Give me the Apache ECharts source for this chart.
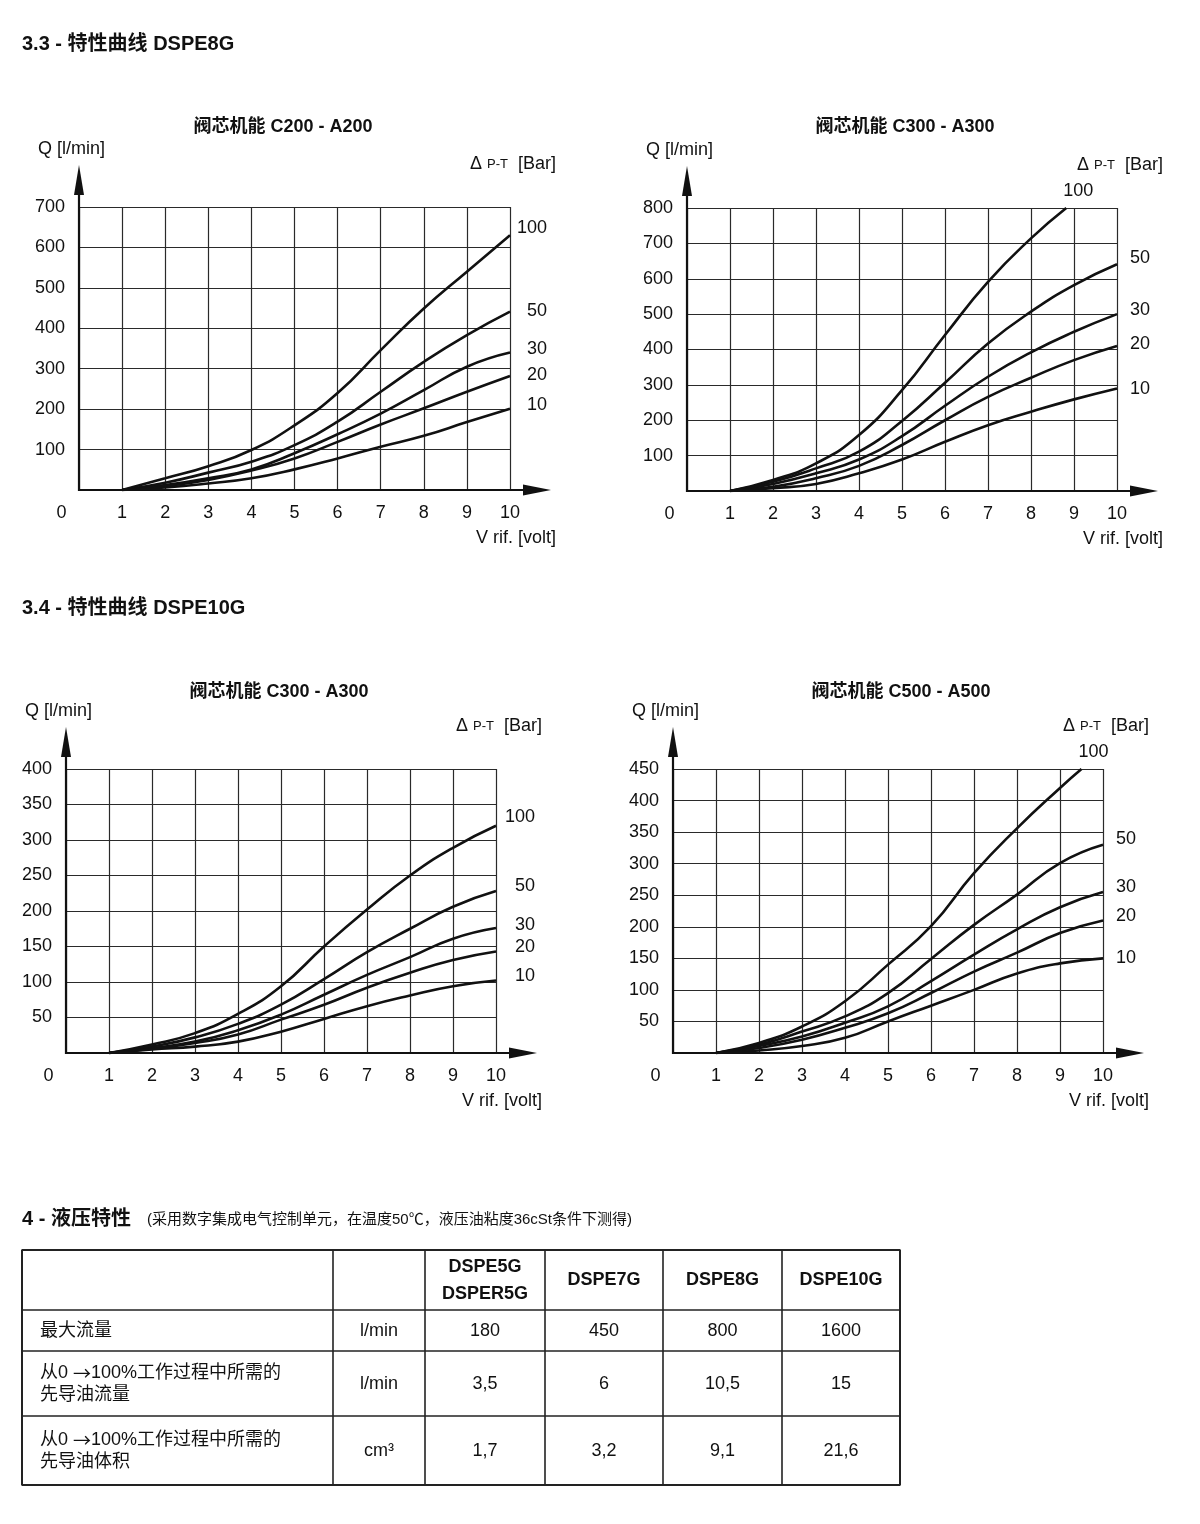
<!DOCTYPE html>
<html><head><meta charset="utf-8">
<script src="https://cdn.jsdelivr.net/npm/echarts@6/dist/echarts.min.js"></script>
<style>html,body{margin:0;padding:0;background:#fff}#c{width:1200px;height:1524px}</style>
</head><body><div id="c"></div>
<script>
// ---------- data ----------
const dpLabels = ['100', '50', '30', '20', '10'];

// 3.3 DSPE8G  C200 - A200   Q [l/min] vs V rif. [volt]
const c1_100 = [[1,0],[2,29],[3,59],[4,99],[5,160],[6,240],[7,346],[8,449],[9,540],[10,630]];
const c1_50  = [[1,0],[2,18],[3,43],[4,70],[5,111],[6,169],[7,243],[8,317],[9,383],[10,441]];
const c1_30  = [[1,0],[2,12],[3,29],[4,51],[5,91],[6,138],[7,189],[8,247],[9,305],[10,340]];
const c1_20  = [[1,0],[2,10],[3,25],[4,48],[5,78],[6,119],[7,162],[8,202],[9,243],[10,282]];
const c1_10  = [[1,0],[2,6],[3,16],[4,29],[5,51],[6,78],[7,107],[8,134],[9,168],[10,201]];

// 3.3 DSPE8G  C300 - A300
const c2_100 = [[1,0],[2,31],[3,78],[4,158],[5,285],[6,441],[7,591],[8,714],[8.82,800]];
const c2_50  = [[1,0],[2,26],[3,64],[4,111],[5,198],[6,306],[7,417],[8,507],[9,582],[10,641]];
const c2_30  = [[1,0],[2,20],[3,50],[4,89],[5,155],[6,241],[7,323],[8,392],[9,450],[10,500]];
const c2_20  = [[1,0],[2,12],[3,36],[4,71],[5,130],[6,200],[7,266],[8,320],[9,370],[10,410]];
const c2_10  = [[1,0],[2,8],[3,20],[4,50],[5,89],[6,139],[7,186],[8,224],[9,259],[10,290]];

// 3.4 DSPE10G  C300 - A300
const c3_100 = [[1,0],[2,12],[3,28],[4,55],[5,94],[6,150],[7,202],[8,250],[9,289],[10,320]];
const c3_50  = [[1,0],[2,9],[3,22],[4,41],[5,68],[6,104],[7,142],[8,175],[9,206],[10,228]];
const c3_30  = [[1,0],[2,7],[3,16],[4,32],[5,54],[6,82],[7,110],[8,135],[9,161],[10,176]];
const c3_20  = [[1,0],[2,6],[3,14],[4,26],[5,47],[6,68],[7,92],[8,113],[9,131],[10,143]];
const c3_10  = [[1,0],[2,5],[3,9],[4,16],[5,30],[6,48],[7,66],[8,81],[9,94],[10,102]];

// 3.4 DSPE10G  C500 - A500
const c4_100 = [[1,0],[2,16],[3,42],[4,82],[5,140],[6,201],[7,285],[8,356],[9,420],[9.5,450]];
const c4_50  = [[1,0],[2,13],[3,34],[4,58],[5,95],[6,149],[7,203],[8,251],[9,301],[10,330]];
const c4_30  = [[1,0],[2,11],[3,26],[4,48],[5,74],[6,114],[7,156],[8,196],[9,231],[10,255]];
const c4_20  = [[1,0],[2,8],[3,21],[4,40],[5,63],[6,95],[7,129],[8,159],[9,190],[10,210]];
const c4_10  = [[1,0],[2,4],[3,11],[4,24],[5,50],[6,75],[7,100],[8,126],[9,142],[10,150]];

// table
const tableHeader = ['', '', 'DSPE5G\nDSPER5G', 'DSPE7G', 'DSPE8G', 'DSPE10G'];
const tableRow1 = ['最大流量', 'l/min', '180', '450', '800', '1600'];
const tableRow2 = ['从0 →100%工作过程中所需的\n先导油流量', 'l/min', '3,5', '6', '10,5', '15'];
const tableRow3 = ['从0 →100%工作过程中所需的\n先导油体积', 'cm³', '1,7', '3,2', '9,1', '21,6'];

// ---------- layout / style ----------
const FONT = "'Liberation Sans', Arial, 'Noto Sans CJK SC', sans-serif";
const INK = '#111';
const GRIDC = '#2a2a2a';

const panels = [
  { title: '阀芯机能 C200 - A200', titleX: 283, titleY: 127, yMax: 700, yStep: 100,
    curves: [c1_100, c1_50, c1_30, c1_20, c1_10],
    grid: { left: 79, top: 207, width: 431, height: 283 },
    labelDx: 37, labelDy: [-7, -1, -4, -1, -4], topLabel: false },
  { title: '阀芯机能 C300 - A300', titleX: 905, titleY: 127, yMax: 800, yStep: 100,
    curves: [c2_100, c2_50, c2_30, c2_20, c2_10],
    grid: { left: 687, top: 208, width: 430, height: 283 },
    labelDx: 33, labelDy: [0, -6, -4, -2, 1], topLabel: true },
  { title: '阀芯机能 C300 - A300', titleX: 279, titleY: 692, yMax: 400, yStep: 50,
    curves: [c3_100, c3_50, c3_30, c3_20, c3_10],
    grid: { left: 66, top: 769, width: 430, height: 284 },
    labelDx: 39, labelDy: [-9, -5, -3, -4, -5], topLabel: false },
  { title: '阀芯机能 C500 - A500', titleX: 901, titleY: 692, yMax: 450, yStep: 50,
    curves: [c4_100, c4_50, c4_30, c4_20, c4_10],
    grid: { left: 673, top: 769, width: 430, height: 284 },
    labelDx: 33, labelDy: [0, -6, -5, -4, 0], topLabel: true }
];

const chart = echarts.init(document.getElementById('c'), null, { renderer: 'canvas' });

const option = {
  backgroundColor: '#fff',
  animation: false,
  textStyle: { fontFamily: FONT, color: INK },
  grid: panels.map(p => Object.assign({ containLabel: false }, p.grid)),
  xAxis: panels.map((p, i) => ({
    type: 'value', gridIndex: i, min: 0, max: 10, interval: 1,
    axisLine: { show: false }, axisTick: { show: false },
    splitLine: { show: true, lineStyle: { color: GRIDC, width: 1.2 } },
    axisLabel: {
      show: true, margin: 14, fontSize: 18, color: INK, fontFamily: FONT,
      showMinLabel: true, showMaxLabel: true,
      formatter: v => (v === 0 ? '{z|0}' : String(v)),
      rich: { z: { fontSize: 18, color: INK, fontFamily: FONT, padding: [0, 35, 0, 0] } }
    }
  })),
  yAxis: panels.map((p, i) => ({
    type: 'value', gridIndex: i, min: 0, max: p.yMax, interval: p.yStep,
    axisLine: { show: false }, axisTick: { show: false },
    splitLine: { show: true, lineStyle: { color: GRIDC, width: 1.2 } },
    axisLabel: {
      show: true, margin: 14, fontSize: 18, color: INK, fontFamily: FONT,
      formatter: v => (v === 0 ? '' : String(v))
    }
  })),
  series: []
};
panels.forEach((p, i) => {
  p.curves.forEach((d, k) => {
    option.series.push({
      type: 'line', name: dpLabels[k], xAxisIndex: i, yAxisIndex: i, data: d,
      smooth: 0.5, symbol: 'none', silent: true, z: 5,
      lineStyle: { color: INK, width: 2.6 }
    });
  });
});
chart.setOption(option);

// ---------- annotations ----------
function txt(x, y, text, o) {
  o = o || {};
  const align = o.align || 'left';
  const va = o.va || 'middle';
  const st = {
    x: x, y: y, text: text, fill: o.fill || INK, fontFamily: o.family || FONT,
    fontSize: o.size || 18, fontWeight: o.weight || 'normal',
    align: align, textAlign: align, verticalAlign: va, textVerticalAlign: va
  };
  if (o.lineHeight) st.lineHeight = o.lineHeight;
  if (o.rich) st.rich = o.rich;
  return { type: 'text', silent: true, z: 20, style: st };
}
function line(x1, y1, x2, y2, w, c) {
  return { type: 'line', silent: true, z: 20, shape: { x1, y1, x2, y2 },
    style: { stroke: c || INK, lineWidth: w || 2 } };
}
function poly(pts) {
  return { type: 'polygon', silent: true, z: 20, shape: { points: pts }, style: { fill: INK } };
}

const g = [];
// headings
g.push(txt(22, 44, '3.3 - 特性曲线 DSPE8G', { size: 20, weight: 'bold' }));
g.push(txt(22, 608, '3.4 - 特性曲线 DSPE10G', { size: 20, weight: 'bold' }));
g.push(txt(22, 1219, '4 - 液压特性', { size: 20, weight: 'bold' }));
g.push(txt(147, 1220, '(采用数字集成电气控制单元，在温度50℃，液压油粘度36cSt条件下测得)', { size: 15 }));

panels.forEach((p, i) => {
  const px = v => chart.convertToPixel({ gridIndex: i }, v);
  const o = px([0, 0]);
  const r = px([10, 0]);
  const t = px([0, p.yMax]);
  const x0 = o[0], y0 = o[1], x10 = r[0], yTop = t[1];
  // axes with arrows
  g.push(line(x0 - 1, y0, x10 + 16, y0, 2.2));
  g.push(poly([[x10 + 41, y0], [x10 + 13, y0 - 5.5], [x10 + 13, y0 + 5.5]]));
  g.push(line(x0, y0 + 1, x0, yTop - 15, 2.2));
  g.push(poly([[x0, yTop - 42], [x0 - 5, yTop - 12], [x0 + 5, yTop - 12]]));
  // titles & axis names
  g.push(txt(p.titleX, p.titleY, p.title, { size: 18, weight: 'bold', align: 'center' }));
  g.push(txt(x0 - 41, yTop - 58, 'Q [l/min]'));
  g.push(txt(x10 + 46, yTop - 43, '{a|Δ} {b|P-T}  {a|[Bar]}', {
    align: 'right',
    rich: { a: { fontSize: 18, fontFamily: FONT, fill: INK, color: INK },
            b: { fontSize: 13, fontFamily: FONT, fill: INK, color: INK } }
  }));
  g.push(txt(x10 + 46, y0 + 48, 'V rif. [volt]', { align: 'right' }));
  // curve labels
  p.curves.forEach((d, k) => {
    const last = d[d.length - 1];
    const e = px(last);
    if (k === 0 && p.topLabel) {
      g.push(txt(e[0] + 12, e[1] - 17, dpLabels[k], { align: 'center' }));
    } else {
      g.push(txt(x10 + p.labelDx, e[1] + p.labelDy[k], dpLabels[k], { align: 'right' }));
    }
  });
});

// table
const colX = [22, 333, 425, 545, 663, 782, 900];
const rowY = [1250, 1310, 1351, 1416, 1485];
rowY.forEach((y, k) => g.push(line(colX[0] - 0.5, y, colX[colX.length - 1] + 0.5, y, (k === 0 || k === rowY.length - 1) ? 2 : 1.6, '#222')));
colX.forEach((x, k) => g.push(line(x, rowY[0], x, rowY[rowY.length - 1], (k === 0 || k === colX.length - 1) ? 2 : 1.6, '#222')));
const rows = [tableHeader, tableRow1, tableRow2, tableRow3];
const cellRich = {
  t: { fontSize: 18, fontFamily: FONT, fill: INK, color: INK, lineHeight: 22 },
  ar: { fontSize: 18, fontFamily: "'Noto Sans CJK SC', 'DejaVu Sans', sans-serif", fill: INK, color: INK, lineHeight: 22 }
};
rows.forEach((row, ri) => {
  const yc = (rowY[ri] + rowY[ri + 1]) / 2 + 0.5;
  row.forEach((cell, ci) => {
    if (!cell) return;
    if (ri === 0) {
      g.push(txt((colX[ci] + colX[ci + 1]) / 2, yc, cell, { size: 18, weight: 'bold', align: 'center', lineHeight: 27 }));
    } else if (ci === 0) {
      const rt = cell.split('\n').map(s => s.split('→').map(part => part ? '{t|' + part + '}' : '').join('{ar|→}')).join('\n');
      g.push(txt(colX[0] + 18, yc, rt, { size: 18, lineHeight: 22, rich: cellRich }));
    } else {
      g.push(txt((colX[ci] + colX[ci + 1]) / 2, yc, cell, { size: 18, align: 'center' }));
    }
  });
});

chart.setOption({ graphic: { elements: g } });
</script></body></html>
